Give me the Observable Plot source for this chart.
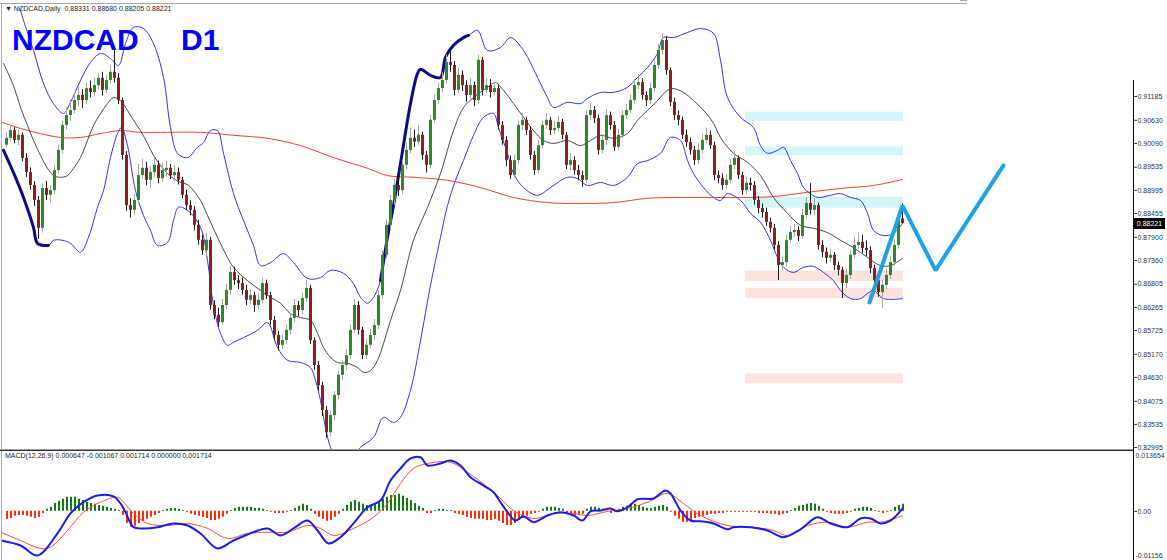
<!DOCTYPE html>
<html>
<head>
<meta charset="utf-8">
<script src="https://cdn.jsdelivr.net/npm/d3@7"></script>
<script src="https://cdn.jsdelivr.net/npm/@observablehq/plot@0.6"></script>
<style>
html,body{margin:0;padding:0;background:#fff;}
#wrap{position:relative;width:1167px;height:560px;overflow:hidden;font-family:"Liberation Sans",Arial,sans-serif;}
.abs{position:absolute;}
#p1{position:absolute;left:0;top:0;}
#p2{position:absolute;left:0;top:451px;}
.small{font-size:7px;line-height:8px;color:#222;white-space:pre;}
.big{font-size:30px;line-height:30px;font-weight:bold;color:#0000ff;white-space:pre;}
</style>
</head>
<body>
<div id="wrap">
  <div id="p1"></div>
  <div id="p2"></div>
  <div class="abs" style="left:0;top:3px;width:967px;height:1px;background:#a8a8a8"></div>
  <div class="abs" style="left:960px;top:0;width:7px;height:1px;background:#a8a8a8"></div>
  <div class="abs" style="left:1px;top:3px;width:1px;height:557px;background:#a8a8a8"></div>
  <div class="abs" style="left:0;top:449px;width:1133px;height:1px;background:#a0a0a0"></div>
  <div class="abs" style="left:0;top:450px;width:1133px;height:1px;background:#303030"></div>
  <div class="abs" style="left:1133px;top:80px;width:1px;height:480px;background:#000"></div>
  <div class="abs small" id="hdr" style="left:5px;top:5px"></div>
  <div class="abs big" id="sym" style="left:12px;top:25px"></div>
  <div class="abs big" id="tf" style="left:181px;top:25px"></div>
  <div class="abs small" id="mhdr" style="left:5px;top:452px"></div>
  <div class="abs" id="cur" style="left:1134px;width:31px;height:11px;background:#000;color:#fff;font-size:7px;line-height:11px;text-align:center;"></div>
</div>
<script>
// ---------- header info ----------
const symbol = "NZDCAD";
const timeframe = "D1";
const lastOHLC = [0.88331, 0.88680, 0.88205, 0.88221];
const macdInfo = ["0.000647", "-0.001067", "0.001714", "0.000000", "0.001714"];

// ---------- daily candles ----------
const open = [
0.9005,0.9021,0.9039,0.9016,0.9028,0.8974,0.8941,0.8911,0.8876,0.8811,
0.8904,0.8888,0.8899,0.8946,0.8993,0.9051,0.9074,0.9086,0.9109,0.9121,
0.9109,0.9137,0.9128,0.9144,0.9161,0.9133,0.9156,0.9175,0.9161,0.9109,
0.8981,0.8864,0.8853,0.8876,0.8934,0.8951,0.8923,0.8941,0.8958,0.8927,
0.8946,0.8951,0.8934,0.8941,0.8923,0.8888,0.8864,0.8853,0.8818,0.8783,
0.8759,0.8783,0.8631,0.8608,0.8591,0.8631,0.8666,0.8708,0.8689,0.8682,
0.8666,0.8643,0.8654,0.8631,0.8643,0.8682,0.8654,0.8596,0.8561,0.8538,
0.8549,0.8573,0.8601,0.8631,0.8619,0.8647,0.8671,0.8549,0.8491,0.8444,
0.8386,0.8334,0.8374,0.8421,0.8468,0.8491,0.8514,0.8573,0.8631,0.8573,
0.8514,0.8538,0.8561,0.8584,0.8654,0.8748,0.8818,0.8876,0.8911,0.8899,
0.8958,0.8993,0.9021,0.9012,0.9028,0.8981,0.8958,0.9063,0.9109,0.9137,
0.9156,0.9198,0.9191,0.9133,0.9168,0.9144,0.9121,0.9144,0.9109,0.9203,
0.9133,0.9144,0.9128,0.9137,0.9051,0.9016,0.8969,0.8934,0.8969,0.9051,
0.9063,0.9039,0.8981,0.8946,0.9004,0.9051,0.9063,0.9039,0.9044,0.9058,
0.9028,0.8958,0.8969,0.8946,0.8934,0.8923,0.9074,0.9086,0.9067,0.8993,
0.9016,0.9074,0.9051,0.9000,0.9028,0.9074,0.9086,0.9109,0.9144,0.9151,
0.9121,0.9109,0.9137,0.9191,0.9226,0.9249,0.9179,0.9105,0.9074,0.9063,
0.9028,0.9011,0.8993,0.8969,0.8993,0.9016,0.9028,0.9004,0.8934,0.8927,
0.8911,0.8923,0.8958,0.8974,0.8934,0.8899,0.8916,0.8911,0.8876,0.8857,
0.8848,0.8825,0.8811,0.8771,0.8724,0.8731,0.8783,0.8801,0.8806,0.8792,
0.8841,0.8869,0.8853,0.8864,0.8771,0.8755,0.8741,0.8748,0.8724,0.8713,
0.8682,0.8701,0.8748,0.8771,0.8778,0.8764,0.8759,0.8717,0.8689,0.8661,
0.8678,0.8701,0.8731,0.8771,0.88331];
const high = [
0.9035,0.9050,0.9046,0.9040,0.9033,0.8985,0.8952,0.8920,0.8885,0.8915,
0.8920,0.8910,0.8958,0.9005,0.9062,0.9092,0.9110,0.9125,0.9140,0.9135,
0.9150,0.9155,0.9160,0.9172,0.9175,0.9168,0.9190,0.9230,0.9172,0.9115,
0.8990,0.8880,0.8890,0.8960,0.8972,0.8965,0.8955,0.8975,0.8968,0.8962,
0.8968,0.8960,0.8958,0.8952,0.8930,0.8900,0.8875,0.8862,0.8830,0.8795,
0.8800,0.8790,0.8642,0.8625,0.8645,0.8680,0.8722,0.8720,0.8700,0.8695,
0.8678,0.8668,0.8662,0.8658,0.8695,0.8690,0.8662,0.8605,0.8570,0.8562,
0.8585,0.8612,0.8645,0.8640,0.8660,0.8690,0.8678,0.8555,0.8500,0.8452,
0.8395,0.8385,0.8430,0.8478,0.8502,0.8528,0.8585,0.8645,0.8640,0.8580,
0.8552,0.8575,0.8598,0.8665,0.8758,0.8830,0.8888,0.8925,0.8930,0.8970,
0.9010,0.9045,0.9040,0.9050,0.9035,0.8990,0.9075,0.9122,0.9150,0.9175,
0.9215,0.9225,0.9200,0.9185,0.9178,0.9155,0.9160,0.9152,0.9215,0.9210,
0.9160,0.9158,0.9152,0.9145,0.9060,0.9025,0.8980,0.8982,0.9062,0.9080,
0.9070,0.9048,0.8990,0.9015,0.9062,0.9078,0.9070,0.9060,0.9072,0.9065,
0.9035,0.8985,0.8978,0.8958,0.8945,0.9085,0.9102,0.9095,0.9075,0.9030,
0.9088,0.9082,0.9060,0.9042,0.9085,0.9100,0.9122,0.9158,0.9170,0.9160,
0.9130,0.9150,0.9202,0.9240,0.9265,0.9258,0.9185,0.9115,0.9085,0.9070,
0.9040,0.9022,0.9002,0.9008,0.9030,0.9045,0.9038,0.9012,0.8945,0.8938,
0.8935,0.8970,0.8990,0.8980,0.8942,0.8930,0.8928,0.8920,0.8885,0.8868,
0.8858,0.8835,0.8820,0.8780,0.8745,0.8795,0.8815,0.8820,0.8815,0.8855,
0.8882,0.8915,0.8880,0.8870,0.8782,0.8765,0.8762,0.8755,0.8732,0.8720,
0.8715,0.8760,0.8790,0.8800,0.8795,0.8782,0.8768,0.8725,0.8698,0.8690,
0.8715,0.8745,0.8785,0.8850,0.88680];
const low = [
0.8998,0.9012,0.9008,0.9004,0.8966,0.8930,0.8900,0.8862,0.8785,0.8800,
0.8876,0.8870,0.8890,0.8938,0.8985,0.9040,0.9060,0.9078,0.9095,0.9090,
0.9100,0.9115,0.9118,0.9135,0.9120,0.9125,0.9148,0.9150,0.9100,0.8970,
0.8850,0.8835,0.8840,0.8868,0.8925,0.8910,0.8905,0.8930,0.8915,0.8918,
0.8930,0.8925,0.8920,0.8912,0.8880,0.8852,0.8840,0.8805,0.8772,0.8748,
0.8745,0.8620,0.8598,0.8580,0.8585,0.8620,0.8655,0.8678,0.8668,0.8655,
0.8630,0.8632,0.8615,0.8620,0.8635,0.8645,0.8585,0.8548,0.8525,0.8528,
0.8540,0.8562,0.8592,0.8605,0.8610,0.8638,0.8540,0.8480,0.8432,0.8372,
0.8321,0.8325,0.8362,0.8410,0.8455,0.8480,0.8505,0.8565,0.8562,0.8505,
0.8505,0.8530,0.8550,0.8575,0.8645,0.8740,0.8808,0.8865,0.8885,0.8890,
0.8948,0.8985,0.9000,0.9005,0.8970,0.8940,0.8950,0.9055,0.9100,0.9128,
0.9148,0.9175,0.9120,0.9125,0.9130,0.9105,0.9112,0.9095,0.9100,0.9120,
0.9125,0.9115,0.9120,0.9040,0.9005,0.8955,0.8925,0.8928,0.8960,0.9040,
0.9028,0.8970,0.8935,0.8938,0.8995,0.9042,0.9028,0.9030,0.9035,0.9018,
0.8948,0.8945,0.8935,0.8922,0.8906,0.8915,0.9062,0.9055,0.8982,0.8985,
0.9005,0.9040,0.8990,0.8992,0.9020,0.9065,0.9078,0.9100,0.9135,0.9110,
0.9095,0.9100,0.9128,0.9182,0.9215,0.9168,0.9095,0.9062,0.9050,0.9018,
0.9000,0.8982,0.8958,0.8960,0.8985,0.9008,0.8995,0.8922,0.8915,0.8900,
0.8902,0.8915,0.8948,0.8925,0.8888,0.8890,0.8898,0.8865,0.8845,0.8835,
0.8815,0.8800,0.8760,0.8689,0.8712,0.8722,0.8775,0.8790,0.8780,0.8785,
0.8832,0.8842,0.8840,0.8760,0.8742,0.8728,0.8730,0.8712,0.8700,0.8647,
0.8670,0.8692,0.8740,0.8762,0.8752,0.8745,0.8705,0.8675,0.8650,0.8624,
0.8668,0.8692,0.8722,0.8762,0.88205];
const close = [
0.9021,0.9039,0.9016,0.9028,0.8974,0.8941,0.8911,0.8876,0.8811,0.8904,
0.8888,0.8899,0.8946,0.8993,0.9051,0.9074,0.9086,0.9109,0.9121,0.9109,
0.9137,0.9128,0.9144,0.9161,0.9133,0.9156,0.9175,0.9161,0.9109,0.8981,
0.8864,0.8853,0.8876,0.8934,0.8951,0.8923,0.8941,0.8958,0.8927,0.8946,
0.8951,0.8934,0.8941,0.8923,0.8888,0.8864,0.8853,0.8818,0.8783,0.8759,
0.8783,0.8631,0.8608,0.8591,0.8631,0.8666,0.8708,0.8689,0.8682,0.8666,
0.8643,0.8654,0.8631,0.8643,0.8682,0.8654,0.8596,0.8561,0.8538,0.8549,
0.8573,0.8601,0.8631,0.8619,0.8647,0.8671,0.8549,0.8491,0.8444,0.8386,
0.8334,0.8374,0.8421,0.8468,0.8491,0.8514,0.8573,0.8631,0.8573,0.8514,
0.8538,0.8561,0.8584,0.8654,0.8748,0.8818,0.8876,0.8911,0.8899,0.8958,
0.8993,0.9021,0.9012,0.9028,0.8981,0.8958,0.9063,0.9109,0.9137,0.9156,
0.9198,0.9191,0.9133,0.9168,0.9144,0.9121,0.9144,0.9109,0.9203,0.9133,
0.9144,0.9128,0.9137,0.9051,0.9016,0.8969,0.8934,0.8969,0.9051,0.9063,
0.9039,0.8981,0.8946,0.9004,0.9051,0.9063,0.9039,0.9044,0.9058,0.9028,
0.8958,0.8969,0.8946,0.8934,0.8923,0.9074,0.9086,0.9067,0.8993,0.9016,
0.9074,0.9051,0.9000,0.9028,0.9074,0.9086,0.9109,0.9144,0.9151,0.9121,
0.9109,0.9137,0.9191,0.9226,0.9249,0.9179,0.9105,0.9074,0.9063,0.9028,
0.9011,0.8993,0.8969,0.8993,0.9016,0.9028,0.9004,0.8934,0.8927,0.8911,
0.8923,0.8958,0.8974,0.8934,0.8899,0.8916,0.8911,0.8876,0.8857,0.8848,
0.8825,0.8811,0.8771,0.8724,0.8731,0.8783,0.8801,0.8806,0.8792,0.8841,
0.8869,0.8853,0.8864,0.8771,0.8755,0.8741,0.8748,0.8724,0.8713,0.8682,
0.8701,0.8748,0.8771,0.8778,0.8764,0.8759,0.8717,0.8689,0.8661,0.8678,
0.8701,0.8731,0.8771,0.8833,0.88221];

// ---------- indicator lines: [bar, price] ----------
const upperBand = [[2.25,0.9343],[3.5,0.9319],[4.25,0.9296],[6.75,0.9226],[9.25,0.9149],[11.75,0.9102],[14.25,0.9079],[16,0.9105],[18.5,0.9156],[21,0.9198],[23.5,0.9219],[26,0.9207],[28,0.9191],[29.75,0.9242],[31.75,0.9280],[34.25,0.9277],[36.75,0.9242],[39.25,0.9163],[41,0.9046],[42.75,0.8986],[45.25,0.8976],[47.75,0.9000],[49.25,0.9011],[51,0.9039],[52.75,0.9039],[54.25,0.8986],[56.75,0.8892],[59.25,0.8829],[61.75,0.8771],[63.5,0.8724],[66,0.8731],[69.25,0.8752],[71.75,0.8731],[75.25,0.8694],[78.5,0.8696],[81,0.8713],[84.25,0.8706],[86.75,0.8682],[88.5,0.8650],[90.25,0.8636],[91.75,0.8650],[93.5,0.8689],[95.25,0.8790],[96.75,0.8864],[98.5,0.8962],[101,0.9102],[102.75,0.9172],[103.5,0.9182],[106,0.9168],[108.5,0.9163],[109.75,0.9210],[111.75,0.9238],[114.25,0.9256],[115.5,0.9261],[117.75,0.9273],[120.25,0.9226],[123.5,0.9233],[126,0.9256],[129.25,0.9226],[132.75,0.9163],[135.25,0.9116],[136.75,0.9093],[140.25,0.9105],[143.5,0.9102],[145.25,0.9114],[148.5,0.9128],[151.75,0.9128],[155.25,0.9140],[157.75,0.9163],[160.25,0.9186],[162.75,0.9219],[164.25,0.9256],[166.75,0.9256],[170.25,0.9268],[173.5,0.9277],[176.75,0.9266],[178.5,0.9203],[180.25,0.9116],[183.5,0.9070],[186.75,0.9046],[188.5,0.9004],[190.25,0.8986],[192.75,0.8993],[194.25,0.9000],[196,0.8969],[197.75,0.8939],[199.25,0.8906],[201,0.8892],[202.75,0.8883],[206,0.8888],[208.5,0.8892],[211,0.8883],[213.5,0.8876],[215.25,0.8846],[216.75,0.8806],[219.25,0.8794],[221.75,0.8799],[224,0.8822]];
const lowerBand = [[-0.75,0.8993],[1.75,0.8941],[4.25,0.8883],[6.75,0.8813],[7.75,0.8776],[10.5,0.8771],[11.75,0.8783],[14,0.8783],[16,0.8776],[18.5,0.8755],[20.5,0.8790],[22.75,0.8860],[24.25,0.8899],[26,0.8976],[27.75,0.9032],[28.75,0.9046],[30.25,0.9004],[32.25,0.8899],[34.25,0.8841],[36,0.8806],[37.75,0.8771],[40.25,0.8778],[41.75,0.8829],[43,0.8860],[45.25,0.8853],[48.5,0.8813],[50.25,0.8736],[51.75,0.8631],[53.5,0.8566],[55.25,0.8538],[56.75,0.8545],[59.25,0.8556],[62.75,0.8573],[65.25,0.8591],[67.75,0.8533],[70.25,0.8503],[73.5,0.8498],[76,0.8486],[77.25,0.8456],[78.5,0.8409],[79.75,0.8346],[81,0.8300],[82.5,0.8274],[84.75,0.8265],[87.25,0.8281],[88.5,0.8300],[91.75,0.8323],[94.25,0.8370],[96.75,0.8358],[98.5,0.8370],[101,0.8433],[103.5,0.8549],[106,0.8678],[108.5,0.8790],[110.25,0.8864],[112.25,0.8923],[114.25,0.8969],[116.75,0.9028],[119.25,0.9070],[121.75,0.9079],[123,0.9046],[125.25,0.8986],[126.75,0.8939],[129.25,0.8906],[132.75,0.8888],[136,0.8906],[140.25,0.8930],[142.75,0.8927],[145.25,0.8911],[148.5,0.8918],[151.75,0.8911],[155.25,0.8930],[157.75,0.8962],[160.25,0.8969],[163.5,0.8986],[166,0.9023],[168.5,0.9016],[170.25,0.8969],[171.75,0.8939],[174.25,0.8906],[176.75,0.8883],[178.5,0.8876],[180.25,0.8892],[183.5,0.8876],[186,0.8846],[188.5,0.8825],[191,0.8783],[192.75,0.8743],[194.25,0.8720],[196.75,0.8708],[199.25,0.8720],[201.75,0.8722],[204.25,0.8708],[206.75,0.8689],[208.5,0.8666],[211,0.8647],[213.5,0.8647],[215.25,0.8659],[216.75,0.8666],[219.25,0.8647],[224,0.8647]];
const middleBand = [[-0.75,0.9196],[1.75,0.9144],[3.5,0.9093],[5.25,0.9051],[6.75,0.9016],[8.5,0.8981],[10.25,0.8951],[11.75,0.8934],[13.5,0.8930],[15.25,0.8934],[16.75,0.8951],[18.5,0.8976],[20.25,0.9016],[21.75,0.9051],[23.5,0.9079],[25.25,0.9102],[26.75,0.9116],[28.5,0.9109],[30.25,0.9086],[31.75,0.9063],[33.5,0.9039],[35.25,0.9009],[36.75,0.8981],[38.5,0.8958],[40.25,0.8939],[41.75,0.8927],[43.5,0.8918],[45.25,0.8913],[46.75,0.8899],[48.5,0.8876],[50.25,0.8841],[52.75,0.8790],[55.25,0.8743],[56.75,0.8720],[60.25,0.8689],[63.5,0.8666],[66,0.8650],[68.5,0.8636],[71,0.8612],[73.5,0.8603],[76,0.8596],[77.75,0.8566],[79.25,0.8533],[81,0.8510],[82.75,0.8498],[85.25,0.8496],[87.75,0.8486],[89.25,0.8475],[91,0.8479],[92.75,0.8503],[94.25,0.8542],[96,0.8596],[98.5,0.8666],[101.75,0.8783],[105.25,0.8860],[108.5,0.8939],[111.75,0.9039],[114.25,0.9093],[116.75,0.9116],[120.25,0.9140],[122.25,0.9151],[124.25,0.9133],[126.75,0.9102],[129.25,0.9070],[131.75,0.9039],[134.25,0.9016],[136.75,0.9009],[140.25,0.9016],[143.5,0.9004],[146,0.9016],[148.5,0.9028],[151.75,0.9021],[155.25,0.9032],[157.75,0.9063],[160.25,0.9086],[162.75,0.9109],[165.25,0.9133],[166.75,0.9137],[169.25,0.9128],[171.75,0.9109],[174.75,0.9081],[176.75,0.9056],[178.5,0.9023],[181.75,0.8986],[185.25,0.8965],[188.5,0.8934],[191.75,0.8883],[195.25,0.8846],[198.5,0.8818],[201.75,0.8811],[205.25,0.8801],[208.5,0.8783],[211.75,0.8766],[215.25,0.8743],[218.5,0.8724],[221,0.8724],[224,0.8741]];
const ma200 = [[-1,0.9058],[3.5,0.9044],[8.5,0.9032],[13.5,0.9023],[18.5,0.9023],[23.5,0.9032],[28.5,0.9039],[33.5,0.9035],[40.25,0.9035],[48.5,0.9035],[56.75,0.9028],[65.25,0.9021],[73.5,0.9004],[81.75,0.8976],[90.25,0.8951],[95.25,0.8934],[101.75,0.8930],[110.25,0.8923],[118.5,0.8906],[126.75,0.8883],[135.25,0.8871],[143.5,0.8869],[151.75,0.8871],[160.25,0.8881],[168.5,0.8883],[176.75,0.8883],[185.25,0.8883],[191.75,0.8885],[200.25,0.8895],[208.5,0.8904],[216.75,0.8911],[224,0.8925]];
const bandWalkDown = [[-0.75,0.8993],[1.75,0.8941],[4.25,0.8883],[6.75,0.8813],[7.75,0.8776],[10.5,0.8771]];
const bandWalkUp = [[93.5,0.8689],[95.25,0.8790],[96.75,0.8864],[98.5,0.8962],[101,0.9102],[102.75,0.9172],[103.5,0.9182],[106,0.9168],[108.5,0.9163],[109.75,0.9210],[111.75,0.9238],[114.25,0.9256],[115.5,0.9261]];

// ---------- zones and projection ----------
const zoneStart = 184.75, zoneEnd = 224.25;
const resistHigh = [0.9082, 0.9001, 0.8883];
const resistLow  = [0.9060, 0.8980, 0.8858];
const supportHigh = [0.8711, 0.8671, 0.8471];
const supportLow  = [0.8687, 0.8647, 0.8448];
const zigzagBar = [215.75, 224, 232.25, 249.25];
const zigzagPrice = [0.8638, 0.8864, 0.8713, 0.8958];

// ---------- price axis ----------
const priceTicks = [0.91185,0.90630,0.90090,0.89535,0.88995,0.88455,0.87900,0.87360,0.86805,0.86265,0.85725,0.85170,0.84630,0.84075,0.83535,0.82995];

// ---------- MACD(12,26,9) ----------
const macdMain = [[-1.5,-0.0070],[3.5,-0.0082],[7.75,-0.0106],[12.75,-0.0053],[16,-0.0005],[19.25,0.0022],[22.75,0.0038],[26.75,0.0036],[28.5,0.0019],[29.75,-0.0002],[31.75,-0.0038],[34.25,-0.0041],[37.75,-0.0038],[41.75,-0.0029],[45.25,-0.0034],[48.5,-0.0053],[52.75,-0.0089],[56.75,-0.0070],[61.75,-0.0050],[65.25,-0.0041],[68.5,-0.0058],[71.75,-0.0041],[75.25,-0.0022],[77.75,-0.0046],[80.5,-0.0077],[83.5,-0.0062],[86.75,-0.0029],[90.25,0.0010],[93.5,0.0026],[96,0.0074],[98.5,0.0103],[101,0.0127],[103.5,0.0130],[105.25,0.0110],[108.5,0.0115],[111,0.0122],[113.5,0.0110],[116,0.0082],[119.25,0.0062],[121.75,0.0046],[123.5,0.0022],[125.25,-0.0002],[127.25,-0.0022],[129.25,-0.0012],[131.75,-0.0026],[135.25,-0.0010],[138.5,-0.0002],[141.75,-0.0010],[144,-0.0022],[146,0.0000],[148.5,0.0002],[151,0.0007],[152.75,0.0000],[155.25,0.0010],[157.75,0.0029],[161.75,0.0031],[164.75,0.0050],[166,0.0043],[168.5,0.0002],[171,-0.0022],[173.5,-0.0024],[176.75,-0.0029],[180.25,-0.0043],[181.75,-0.0038],[186,-0.0038],[190.25,-0.0046],[194.25,-0.0062],[198.5,-0.0043],[202.75,-0.0014],[206,-0.0029],[210.25,-0.0038],[213.5,-0.0017],[216,-0.0017],[218.5,-0.0029],[221,-0.0022],[224,0.000647]];
const macdSignal = [[-1.5,-0.0050],[3.5,-0.0070],[8.5,-0.0089],[11,-0.0086],[15.25,-0.0046],[19.25,-0.0002],[23.5,0.0022],[27.75,0.0034],[29.25,0.0022],[31.75,-0.0005],[35.25,-0.0029],[40.25,-0.0034],[45.25,-0.0029],[50.25,-0.0041],[55.25,-0.0065],[60.25,-0.0053],[65.25,-0.0050],[70.25,-0.0050],[75.25,-0.0034],[78.5,-0.0041],[81.75,-0.0058],[86.75,-0.0041],[91.75,-0.0014],[95.25,0.0019],[98.5,0.0067],[101.75,0.0103],[105.25,0.0115],[111,0.0118],[115.25,0.0094],[120.25,0.0058],[123.5,0.0031],[126.75,0.0002],[131.75,-0.0017],[136.75,-0.0005],[141.75,-0.0005],[145.25,-0.0010],[150.25,0.0000],[155.25,0.0007],[160.25,0.0022],[165.25,0.0043],[169.25,0.0019],[173.5,-0.0010],[180.25,-0.0034],[186.75,-0.0038],[191.75,-0.0046],[195.25,-0.0058],[200.25,-0.0034],[205.25,-0.0026],[210.25,-0.0038],[215.25,-0.0026],[218.5,-0.0026],[224,-0.001067]];
const osma = [
-0.0019,-0.0017,-0.0012,-0.001,-0.001,-0.0012,-0.0014,-0.0017,-0.0014,-0.0005,
0.0005,0.001,0.0019,0.0024,0.0029,0.0034,0.0034,0.0034,0.0029,0.0026,
0.0022,0.0019,0.0017,0.0014,0.0012,0.001,0.0007,0.0005,0.0002,-0.001,
-0.0029,-0.0038,-0.0036,-0.0029,-0.0024,-0.0019,-0.0014,-0.001,-0.0005,0.0002,
0.0005,0.0007,0.0007,0.0005,0.0002,-0.0002,-0.0007,-0.001,-0.0012,-0.0014,
-0.0017,-0.0022,-0.0022,-0.0019,-0.0014,-0.0007,0.0002,0.0007,0.001,0.001,
0.001,0.001,0.0007,0.0007,0.0005,0.0002,-0.0002,-0.0005,-0.0005,-0.0005,
-0.0002,0.0002,0.0007,0.0012,0.0017,0.0014,0.0005,-0.0007,-0.0014,-0.0019,
-0.0024,-0.0022,-0.0014,-0.0007,0.0005,0.0014,0.0022,0.0026,0.0022,0.0017,
0.0014,0.0014,0.0017,0.0022,0.0029,0.0034,0.0038,0.0038,0.0041,0.0036,
0.0031,0.0026,0.0019,0.0012,0.0007,-0.0005,-0.0005,0.0002,0.0005,0.0005,
0.0002,0.0002,-0.0005,-0.0007,-0.001,-0.0014,-0.0017,-0.0019,-0.0019,-0.0019,
-0.0022,-0.0022,-0.0019,-0.0024,-0.0029,-0.0034,-0.0034,-0.0029,-0.0022,-0.0017,
-0.0012,-0.0007,-0.0005,-0.0002,0.0005,0.001,0.001,0.001,0.0007,0.0005,
-0.0005,-0.0007,-0.001,-0.001,-0.0007,0.0005,0.001,0.001,0.0007,0.0005,
-0.0002,-0.0005,-0.0002,0.0005,0.001,0.0012,0.0014,0.0017,0.0014,0.001,
0.0007,0.0007,0.001,0.0012,0.0014,0.001,-0.0002,-0.0012,-0.0019,-0.0026,
-0.0026,-0.0022,-0.0017,-0.0014,-0.0012,-0.001,-0.0007,-0.0007,-0.0005,-0.0005,
-0.0002,-0.0002,-0.0002,-0.0002,-0.0002,-0.0002,-0.0002,-0.0002,-0.0005,-0.0005,
-0.0005,-0.0007,-0.0007,-0.001,-0.0007,-0.0005,0.0002,0.0007,0.0012,0.0014,
0.0017,0.0019,0.0017,0.0012,0.0005,-0.0002,-0.0005,-0.0007,-0.0007,-0.0007,
-0.0005,-0.0002,0.0005,0.0007,0.001,0.001,0.0007,0.0002,-0.0002,-0.0005,
-0.0002,0.0002,0.001,0.0014,0.001714];
const macdMax = 0.013654, macdMin = -0.01156;

// ---------- build ----------
const candles = close.map((c, i) => ({i, o: open[i], h: high[i], l: low[i], c}));
const bull = candles.filter(d => d.c >= d.o);
const bear = candles.filter(d => d.c < d.o);
const resist = resistHigh.map((h, k) => ({h, l: resistLow[k]}));
const support = supportHigh.map((h, k) => ({h, l: supportLow[k]}));
const zig = zigzagBar.map((b, k) => [b, zigzagPrice[k]]);
const hist = osma.map((v, i) => ({i, v}));
const xDomain = [-1, 281.75];
const fontFam = '"Liberation Sans", Arial, sans-serif';

const pricePlot = Plot.plot({
  width: 1167, height: 451,
  marginTop: 7, marginBottom: 1, marginLeft: 2, marginRight: 34,
  x: {domain: xDomain, axis: null},
  y: {domain: [0.82926, 0.93262], axis: "right", ticks: priceTicks, tickFormat: d => d.toFixed(5), tickSize: 3, tickPadding: 1, label: null},
  style: {background: "transparent", fontFamily: fontFam, fontSize: "7px", color: "#333"},
  marks: [
    Plot.rect(resist, {x1: () => zoneStart, x2: () => zoneEnd, y1: "l", y2: "h", fill: "#d3f6fb"}),
    Plot.rect(support, {x1: () => zoneStart, x2: () => zoneEnd, y1: "l", y2: "h", fill: "#fde3df"}),
    Plot.line(ma200, {stroke: "#e8432f", strokeWidth: 1, curve: "catmull-rom", clip: true}),
    Plot.line(upperBand, {stroke: "#3434d8", strokeWidth: 1, curve: "catmull-rom", clip: true}),
    Plot.line(lowerBand, {stroke: "#3434d8", strokeWidth: 1, curve: "catmull-rom", clip: true}),
    Plot.line(middleBand, {stroke: "#1a1a1a", strokeWidth: 0.8, curve: "catmull-rom", clip: true}),
    Plot.line(bandWalkDown, {stroke: "#0b0b86", strokeWidth: 3, curve: "catmull-rom", clip: true}),
    Plot.line(bandWalkUp, {stroke: "#0b0b86", strokeWidth: 3, curve: "catmull-rom", clip: true}),
    Plot.ruleX(bull, {x: "i", y1: "l", y2: "h", stroke: "#a6a6a6", strokeWidth: 1}),
    Plot.ruleX(bear, {x: "i", y1: "l", y2: "h", stroke: "#1a1a1a", strokeWidth: 1}),
    Plot.ruleX(bull, {x: "i", y1: "o", y2: "c", stroke: "#2a8a2a", strokeWidth: 3}),
    Plot.ruleX(bear, {x: "i", y1: "o", y2: "c", stroke: "#8e1f1f", strokeWidth: 3}),
    Plot.line(zig, {stroke: "#1ea2e4", strokeWidth: 4, strokeLinecap: "round", strokeLinejoin: "miter"})
  ]
});
document.getElementById("p1").appendChild(pricePlot);

const macdPlot = Plot.plot({
  width: 1167, height: 109,
  marginTop: 3, marginBottom: 1, marginLeft: 2, marginRight: 34,
  x: {domain: xDomain, axis: null},
  y: {domain: [macdMin, macdMax], axis: "right", ticks: [0], tickFormat: () => "0.00", tickSize: 3, tickPadding: 1, label: null},
  style: {background: "transparent", fontFamily: fontFam, fontSize: "7px", color: "#333"},
  marks: [
    Plot.ruleX(hist.filter(d => d.v >= 0), {x: "i", y1: 0, y2: "v", stroke: "#0f7a0f", strokeWidth: 2, dx: 0.5}),
    Plot.ruleX(hist.filter(d => d.v < 0), {x: "i", y1: 0, y2: "v", stroke: "#ff2a0a", strokeWidth: 2, dx: 0.5}),
    Plot.line(macdSignal, {stroke: "#f0503c", strokeWidth: 1, curve: "catmull-rom", clip: true}),
    Plot.line(macdMain, {stroke: "#1c1ce8", strokeWidth: 2, curve: "catmull-rom", clip: true}),
    Plot.text([macdMax], {y: d => d, text: d => d.toFixed(6), frameAnchor: "right", textAnchor: "start", dx: 2, dy: 1, fill: "#333"}),
    Plot.text([macdMin], {y: d => d, text: d => d.toFixed(5), frameAnchor: "right", textAnchor: "start", dx: 2, dy: -4, fill: "#333"})
  ]
});
document.getElementById("p2").appendChild(macdPlot);

// texts
document.getElementById("hdr").textContent = "\u25BC " + symbol + ",Daily  " + lastOHLC.map(v => v.toFixed(5)).join(" ");
document.getElementById("sym").textContent = symbol;
document.getElementById("tf").textContent = timeframe;
document.getElementById("mhdr").textContent = "MACD(12,26,9) " + macdInfo.join(" ");
const cur = document.getElementById("cur");
cur.textContent = lastOHLC[3].toFixed(5);
cur.style.top = (pricePlot.scale("y").apply(lastOHLC[3]) - 5.5) + "px";
</script>
</body>
</html>
